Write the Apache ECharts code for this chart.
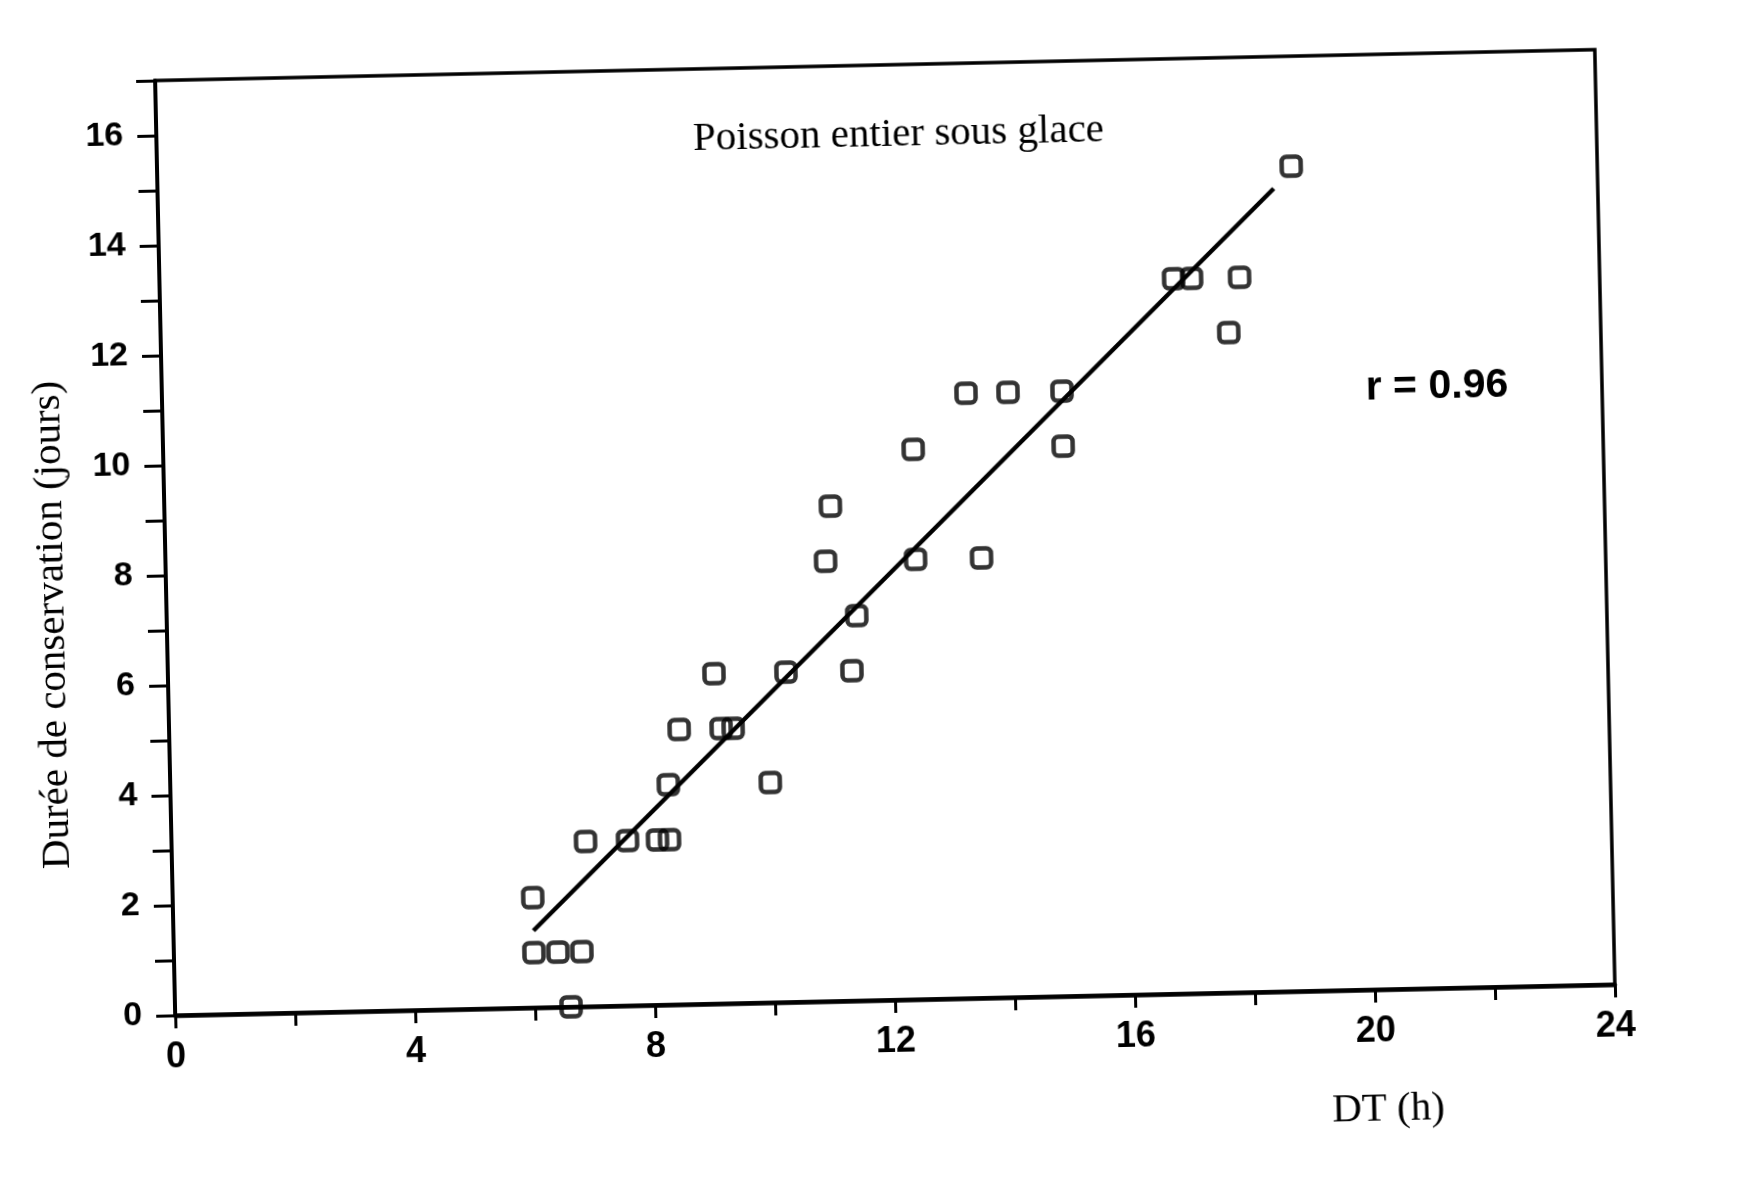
<!DOCTYPE html>
<html>
<head>
<meta charset="utf-8">
<script src="https://cdn.jsdelivr.net/npm/echarts@6/dist/echarts.min.js"></script>
<style>
html,body{margin:0;padding:0;background:#fff;overflow:hidden}
#c{width:1757px;height:1180px;transform:rotate(-1.23deg);transform-origin:885px 533px}
</style>
</head>
<body>
<div id="c"></div>
<script>
// Data
var dtHours = [6.0, 6.0, 6.4, 6.8, 6.6, 6.9, 7.6, 8.1, 8.3, 8.3, 8.5, 9.2, 9.4, 9.1, 10.0, 10.3, 11.4, 11.5, 11.0, 11.1, 12.5, 12.5, 13.6, 13.4, 14.1, 15.0, 15.0, 16.9, 17.2, 17.8, 18.0, 18.9];
var dureeJours = [2, 1, 1, 1, 0, 3, 3, 3, 3, 4, 5, 5, 5, 6, 4, 6, 6, 7, 8, 9, 10, 8, 8, 11, 11, 11, 10, 13, 13, 12, 13, 15];
var fitX = [6.0, 18.6];
var fitY = [1.4, 14.6];
var xTickLabels = [0, 4, 8, 12, 16, 20, 24];
var yTickLabels = [0, 2, 4, 6, 8, 10, 12, 14, 16];
var titleText = 'Poisson entier sous glace';
var rText = 'r = 0.96';
var xName = 'DT (h)';
var yName = 'Durée de conservation (jours)';

var points = dtHours.map(function (x, i) { return [x, dureeJours[i]]; });
var fitLine = fitX.map(function (x, i) { return [x, fitY[i]]; });

var chart = echarts.init(document.getElementById('c'));
chart.setOption({
  backgroundColor: '#ffffff',
  animation: false,
  title: {
    text: titleText,
    left: 902, top: 110, textAlign: 'center',
    textStyle: { fontFamily: 'Liberation Serif', fontSize: 41, fontWeight: 'normal', color: '#000' }
  },
  grid: { left: 165, top: 65, width: 1440, height: 935, show: true, borderColor: '#000', borderWidth: 3.5, backgroundColor: 'transparent' },
  xAxis: {
    type: 'value', min: 0, max: 24, interval: 2,
    axisLine: { show: true, lineStyle: { color: '#000', width: 4.5 } },
    axisTick: { show: true, inside: false, length: 13, lineStyle: { color: '#000', width: 3 } },
    splitLine: { show: false },
    axisLabel: {
      margin: 24, color: '#000', fontFamily: 'Liberation Sans Narrow, Liberation Sans', fontWeight: 'bold', fontSize: 36,
      formatter: function (v) { return xTickLabels.indexOf(v) >= 0 ? String(v) : ''; }
    }
  },
  yAxis: {
    type: 'value', min: 0, max: 17, interval: 1,
    axisLine: { show: true, lineStyle: { color: '#000', width: 4 } },
    axisTick: { show: true, inside: false, length: 19, lineStyle: { color: '#000', width: 3 } },
    splitLine: { show: false },
    axisLabel: {
      margin: 33, color: '#000', fontFamily: 'Liberation Sans', fontWeight: 'bold', fontSize: 34,
      formatter: function (v) { return yTickLabels.indexOf(v) >= 0 ? String(v) : ''; }
    }
  },
  graphic: [
    { type: 'text', x: 1440, y: 399, style: { text: rText, fontFamily: 'Liberation Sans', fontWeight: 'bold', fontSize: 41, fill: '#000', align: 'center', verticalAlign: 'middle' } },
    { type: 'text', x: 1376, y: 1120, style: { text: xName, fontFamily: 'Liberation Serif', fontSize: 41, fill: '#000', align: 'center', verticalAlign: 'middle' } },
    { type: 'text', x: 51, y: 607, rotation: Math.PI / 2, style: { text: yName, fontFamily: 'Liberation Serif', fontSize: 41, fill: '#000', align: 'center', verticalAlign: 'middle' } }
  ],
  series: [
    {
      type: 'line', data: fitLine, showSymbol: false, symbol: 'none',
      lineStyle: { color: '#000', width: 4.5 }, z: 2
    },
    {
      type: 'scatter', data: points, symbol: 'roundRect', symbolSize: 19, clip: false,
      itemStyle: { color: 'rgba(255,255,255,0)', borderColor: '#000', borderWidth: 4.5 }, z: 3
    }
  ]
});
</script>
</body>
</html>
